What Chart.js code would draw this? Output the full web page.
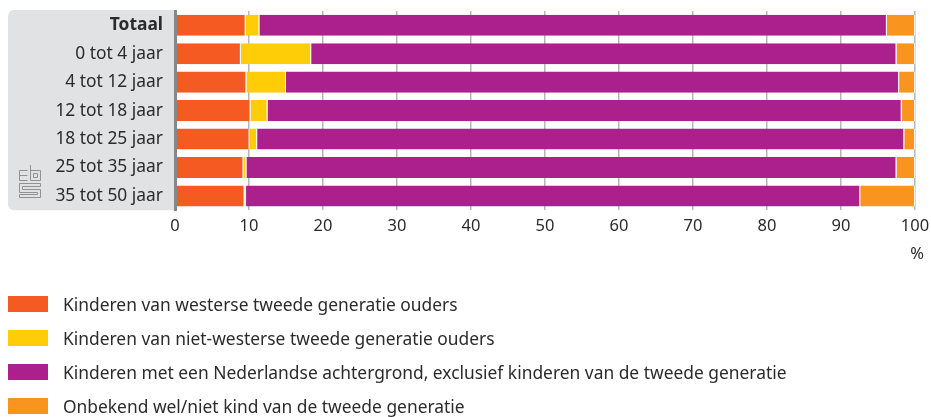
<!DOCTYPE html>
<html><head><meta charset="utf-8">
<script src="https://cdn.jsdelivr.net/npm/chart.js@4"></script>
<style>
html,body{margin:0;padding:0;background:#fff}
#wrap{position:relative;width:931px;height:417px;overflow:hidden;font-family:"Noto Sans",sans-serif}
canvas{position:absolute;left:0;top:0}
#legend{position:absolute;left:8px;top:287px}
.it{position:absolute;left:0;white-space:nowrap;height:34px;width:900px;color:#2b2b2b;font-size:17.4px;line-height:34px}
.it i{position:absolute;left:0;top:9px;width:40px;height:16px}
.it span{position:absolute;left:55px}
#logo{position:absolute;left:18px;top:164px}
</style></head><body>
<div id="wrap">
<canvas id="c" width="931" height="417"></canvas>
<svg id="logo" width="24" height="35" viewBox="0 0 24 35" fill="none" stroke="#8f9193" stroke-width="1">
<path d="M1.5 16.5V6.5H9.5M1.5 11.5H9.5M1.5 16.5H9.5"/>
<path d="M12.5 1V16.5H22.5V6.5H12.5M15.5 9.5H19.5V13.5H15.5Z"/>
<path d="M1.5 19.5H22.5V22.5H4.5V25.5H22.5V33.5H1.5V30.5H19.5V28.5H1.5Z"/>
</svg>
<div id="legend"></div>
</div>
<script>
const categories = ["Totaal","0 tot 4 jaar","4 tot 12 jaar","12 tot 18 jaar","18 tot 25 jaar","25 tot 35 jaar","35 tot 50 jaar"];
const westers = [9.55,8.9,9.65,10.2,10.05,9.25,9.4];
const nietWesters = [1.85,9.5,5.35,2.3,1.05,0.4,0.2];
const nederlands = [84.8,79.1,82.85,85.7,87.45,87.85,83.0];
const onbekend = [3.8,2.5,2.15,1.8,1.45,2.5,7.4];
const xTicks = [0,10,20,30,40,50,60,70,80,90,100];
const seriesNames = ["Kinderen van westerse tweede generatie ouders","Kinderen van niet-westerse tweede generatie ouders","Kinderen met een Nederlandse achtergrond, exclusief kinderen van de tweede generatie","Onbekend wel/niet kind van de tweede generatie"];
const colors = ["#f55a23","#ffcc08","#ab208c","#f9941e"];
const FONT = '"Noto Sans",sans-serif';
const values = [westers,nietWesters,nederlands,onbekend];

const panel = {id:'panel',beforeDraw(ch){
  const {ctx,chartArea:a}=ch;
  ctx.save();ctx.fillStyle='#e1e2e4';ctx.beginPath();
  ctx.roundRect(8,a.top-1,a.left-8,a.bottom-a.top+1,[6,0,0,6]);ctx.fill();ctx.restore();
},afterDraw(ch){
  const {ctx,chartArea:a}=ch;
  ctx.save();ctx.fillStyle='#2b2b2b';ctx.font='16.5px '+FONT;ctx.textAlign='center';ctx.textBaseline='middle';
  ctx.fillText('%',a.right+2,254);ctx.restore();
}};

new Chart(document.getElementById('c'),{
  type:'bar',
  data:{labels:categories,datasets:values.map((v,i)=>({
    label:seriesNames[i],data:v,backgroundColor:colors[i],
    borderColor:'rgba(255,255,255,0.85)',borderWidth:{top:0,bottom:0,left:0,right:1},borderSkipped:false,
    barPercentage:0.74,categoryPercentage:1}))},
  plugins:[panel],
  options:{
    indexAxis:'y',responsive:false,animation:false,
    layout:{padding:{left:0,right:16,top:11,bottom:175}},
    plugins:{legend:{display:false},tooltip:{enabled:false}},
    scales:{
      x:{stacked:true,min:0,max:100,
        afterBuildTicks(ax){ax.ticks=xTicks.map(v=>({value:v}));},
        afterFit(ax){ax.paddingLeft=0;ax.paddingRight=0;},
        grid:{color:'#b4b6b8',lineWidth:1.5,drawTicks:false},
        border:{display:false},
        ticks:{color:'#2b2b2b',font:{family:FONT,size:16.5},padding:6,maxRotation:0,autoSkip:false}
      },
      y:{stacked:true,
        afterFit(ax){ax.width=175;ax.paddingTop=0;ax.paddingBottom=0;},
        grid:{display:false,drawTicks:false},
        border:{display:true,color:'#85878a',width:3,z:5},
        ticks:{color:'#2b2b2b',padding:12,
          font(c){return {family:FONT,size:17.4,weight:c.index===0?'700':'400'};}}
      }
    }
  }
});

const lg=document.getElementById('legend');
seriesNames.forEach((n,i)=>{
  const d=document.createElement('div');d.className='it';d.style.top=(i*34)+'px';
  const b=document.createElement('i');b.style.background=colors[i];
  const s=document.createElement('span');s.textContent=n;
  d.append(b,s);lg.append(d);
});
</script>
</body></html>
